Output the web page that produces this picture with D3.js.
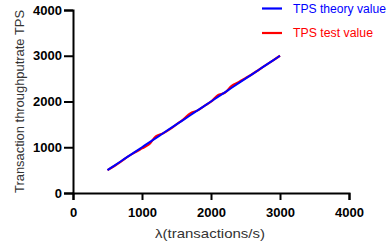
<!DOCTYPE html>
<html>
<head>
<meta charset="utf-8">
<script src="https://cdn.jsdelivr.net/npm/d3@7"></script>
<style>
  body { margin: 0; background: #fff; }
  svg { display: block; font-family: "Liberation Sans", Arial, sans-serif; }
</style>
</head>
<body>
<div id="draw"></div>
<script>
// arrival rate (transactions/s)
var lambda = [500, 600, 700, 800, 900, 1000, 1100, 1200, 1300, 1400, 1500, 1600, 1700, 1800, 1900,
              2000, 2100, 2200, 2300, 2400, 2500, 2600, 2700, 2800, 2900, 3000];
// theoretical TPS
var theoryTPS = [500, 600, 700, 800, 900, 1000, 1100, 1200, 1300, 1400, 1500, 1600, 1700, 1800, 1900,
                 2000, 2100, 2200, 2300, 2400, 2500, 2600, 2700, 2800, 2900, 3000];
// measured TPS
var testTPS = [500, 590, 690, 800, 890, 975, 1060, 1240, 1300, 1390, 1500, 1610, 1740, 1800, 1900,
               1995, 2140, 2190, 2340, 2420, 2510, 2600, 2700, 2800, 2900, 3000];
var xTicks = [0, 1000, 2000, 3000, 4000];
var yTicks = [0, 1000, 2000, 3000, 4000];
var legendNames = ['TPS theory value', 'TPS test value'];
var legendColors = ['#0000ff', '#ff0000'];

var W = 389, H = 243;
var m = {left: 73, right: 40, top: 10, bottom: 50};

var svg = d3.select('#draw').append('svg').attr('width', W).attr('height', H);

var x = d3.scaleLinear().domain([0, 4000]).range([m.left, 349]);
var y = d3.scaleLinear().domain([0, 4000]).range([193, m.top]);

// axes
var xAxis = svg.append('g').attr('transform', 'translate(0,193)')
  .call(d3.axisBottom(x).tickValues(xTicks).tickFormat(d3.format('d')).tickSize(7).tickPadding(8));
var yAxis = svg.append('g').attr('transform', 'translate(' + m.left + ',0)')
  .call(d3.axisLeft(y).tickValues(yTicks).tickFormat(d3.format('d')).tickSize(9).tickPadding(2));

[xAxis, yAxis].forEach(function(g){
  g.selectAll('path.domain').attr('stroke', '#000').attr('stroke-width', 2);
  g.selectAll('.tick line').attr('stroke', '#000').attr('stroke-width', 2);
  g.selectAll('.tick text').attr('fill', '#000').style('font-size', '13px').style('font-weight', 'bold')
    .style('font-family', '"Liberation Sans", Arial, sans-serif');
});

// lines
var line = d3.line().curve(d3.curveCatmullRom.alpha(0.5));

svg.append('path')
  .attr('d', line(lambda.map(function(d, i){ return [x(d), y(testTPS[i])]; })))
  .attr('fill', 'none').attr('stroke', '#ff0000').attr('stroke-width', 2.2);

svg.append('path')
  .attr('d', line(lambda.map(function(d, i){ return [x(d), y(theoryTPS[i])]; })))
  .attr('fill', 'none').attr('stroke', '#0000ff').attr('stroke-width', 2);

// axis titles
svg.append('text')
  .attr('transform', 'translate(24,101.5) rotate(-90)')
  .attr('text-anchor', 'middle')
  .attr('fill', '#333')
  .style('font-size', '13px')
  .attr('textLength', 183).attr('lengthAdjust', 'spacingAndGlyphs')
  .text('Transaction throughputrate TPS');

svg.append('text')
  .attr('x', 210).attr('y', 238)
  .attr('text-anchor', 'middle')
  .attr('fill', '#333')
  .style('font-size', '13.5px')
  .attr('textLength', 110).attr('lengthAdjust', 'spacingAndGlyphs')
  .text('λ(transactions/s)');

// legend
var legW = [93, 80];
var leg = svg.append('g');
legendNames.forEach(function(name, i){
  var yy = 8.5 + i * 24.5;
  leg.append('line').attr('x1', 262).attr('x2', 282).attr('y1', yy).attr('y2', yy)
    .attr('stroke', legendColors[i]).attr('stroke-width', 2.2);
  leg.append('text').attr('x', 293).attr('y', yy + 4.3)
    .attr('fill', legendColors[i]).style('font-size', '12.5px')
    .attr('textLength', legW[i]).attr('lengthAdjust', 'spacingAndGlyphs')
    .text(name);
});
</script>
</body>
</html>
